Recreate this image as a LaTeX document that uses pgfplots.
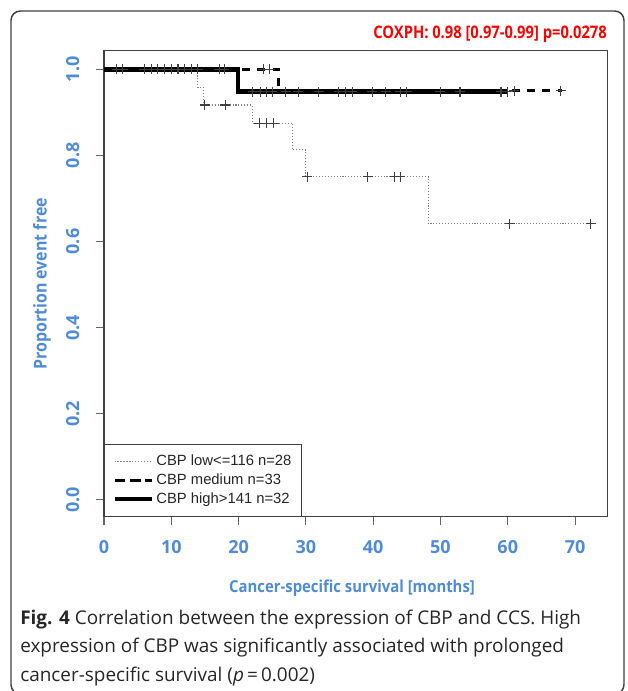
\documentclass[border=0pt]{standalone}
\usepackage{pgfplots}
\pgfplotsset{compat=1.18}
\usepackage{fontspec}
\setmainfont{Open Sans}
\newfontfamily\arial{Liberation Sans}
\definecolor{lblue}{RGB}{79,139,214}
\definecolor{cred}{RGB}{255,0,0}
\begin{document}
\begin{tikzpicture}[x=0.75pt,y=-0.75pt]
\useasboundingbox (0,0) rectangle (627,691);
\begin{scope}
\clip (0,0) rectangle (627,691);
\draw[black!75, line width=1.1pt, rounded corners=7pt] (11,11) rectangle (624,694);
\end{scope}
\node[anchor=base east, font=\bfseries\fontsize{13pt}{15pt}\selectfont, text=cred, inner sep=0pt] at (607,39) {\scalebox{0.85}[1]{COXPH: 0.98 [0.97-0.99] p=0.0278}};
\begin{axis}[
  at={(78pt,-387.525pt)}, anchor=south west,
  scale only axis, width=377.5pt, height=349.3pt,
  xmin=0, xmax=74.8, ymin=-0.039, ymax=1.0425,
  axis line style={black!75, line width=0.8pt},
  xtick={0,10,20,30,40,50,60,70},
  ytick={0,0.2,0.4,0.6,0.8,1.0},
  xtick pos=left, ytick pos=left,
  tick align=outside, major tick length=6pt,
  every tick/.style={black!60, line width=0.8pt},
  /pgf/number format/assume math mode=true,
  yticklabel={\pgfmathprintnumber[fixed,fixed zerofill,precision=1]{\tick}},
  ticklabel style={font=\bfseries\fontsize{13.5pt}{15pt}\selectfont, text=lblue},
  yticklabel style={xshift=-17.5pt, rotate=90, anchor=center},
  xticklabel style={anchor=center, yshift=-16.5pt},
  xlabel={\scalebox{0.9}[1]{Cancer-specific survival [months]}},
  ylabel={\scalebox{0.9}[1]{Proportion event free}},
  every axis x label/.style={at={(axis description cs:0.4927,-0.153)}, anchor=center, font=\bfseries\fontsize{12.4pt}{14pt}\selectfont, text=lblue},
  every axis y label/.style={at={(axis description cs:-0.1232,0.5)}, rotate=90, anchor=center, font=\bfseries\fontsize{13.3pt}{15pt}\selectfont, text=lblue},
  legend image code/.code={\path (0pt,0pt) -- (28pt,0pt); \draw[#1] (2pt,0pt) -- (23pt,0pt);},
  legend style={at={(0,0)}, anchor=south west, draw=black!75, line width=0.8pt,
    font=\arial\fontsize{11.1pt}{12.7pt}\selectfont, text=black!85,
    inner xsep=6pt, inner ysep=6.5pt, row sep=1.6pt, nodes={inner sep=1.5pt}},
  legend cell align=left,
  clip=false,
]
% low (dotted)
\addplot[gray, line width=0.8pt, dash pattern=on 0.8pt off 1.4pt] coordinates {
 (0,1) (13.9,1) (13.9,0.958) (14.8,0.958) (14.8,0.917) (22,0.917) (22,0.875)
 (28,0.875) (28,0.813) (30,0.813) (30,0.75) (48.2,0.75) (48.2,0.641) (72.3,0.641)};
\addlegendentry{CBP low<=116 n=28}
% medium (dashed)
\addplot[black, line width=2.3pt, dash pattern=on 6pt off 5.5pt] coordinates {
 (0,1) (26,1) (26,0.95) (68,0.95)};
\addlegendentry{CBP medium n=33}
% high (solid)
\addplot[black, line width=3.4pt] coordinates {
 (0,1) (19.9,1) (19.9,0.948) (60,0.948)};
\addlegendentry{CBP high>141 n=32}
% censor marks
\addplot[only marks, mark=+, mark size=3.75pt, black!75, mark options={line width=0.8pt}, forget plot] coordinates {
 (15,0.917) (18,0.917) (23.1,0.875) (24.1,0.875) (25.2,0.875)
 (30.2,0.75) (39.2,0.75) (43.2,0.75) (44,0.75) (60.3,0.641) (72.3,0.641)};
\addplot[only marks, mark=+, mark size=3.75pt, black!75, mark options={line width=0.8pt}, forget plot] coordinates {
 (23.7,1) (24.6,1) (61,0.95) (67.9,0.95)};
\addplot[only marks, mark=+, mark size=3.75pt, black!75, mark options={line width=0.8pt}, forget plot] coordinates {
 (1.9,1) (2.8,1) (6,1) (7,1) (8,1) (9,1) (10,1) (11,1) (12,1) (13,1) (13.9,1) (17.1,1) (17.9,1)
 (22.1,0.948) (23.2,0.948) (24.1,0.948) (25,0.948) (27,0.948) (28.9,0.948) (31.9,0.948)
 (34.9,0.948) (35.9,0.948) (36.9,0.948) (39.9,0.948) (41.9,0.948) (44,0.948) (45,0.948)
 (50,0.948) (52.9,0.948) (59,0.948) (60,0.948)};
\end{axis}
\begin{scope}[font=\fontsize{14.2pt}{16pt}\selectfont, text=black!85]
\node[anchor=base west, inner sep=0pt] at (20,624) {\textbf{Fig. 4} Correlation between the expression of CBP and CCS. High};
\node[anchor=base west, inner sep=0pt] at (20,652) {expression of CBP was significantly associated with prolonged};
\node[anchor=base west, inner sep=0pt] at (20,681) {cancer-specific survival (\textit{p}\,=\,0.002)};
\end{scope}
\end{tikzpicture}
\end{document}
